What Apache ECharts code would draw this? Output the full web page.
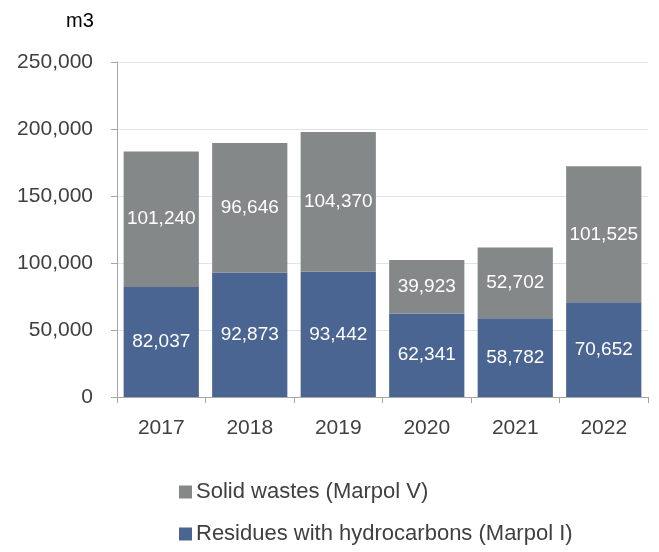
<!DOCTYPE html>
<html>
<head>
<meta charset="utf-8">
<script src="https://cdn.jsdelivr.net/npm/echarts@6/dist/echarts.min.js"></script>
<style>
  html, body { margin: 0; padding: 0; background: #fff; }
  #chart { width: 659px; height: 552px; }
</style>
</head>
<body>
<div id="chart"></div>
<script>
// data
var years = ['2017', '2018', '2019', '2020', '2021', '2022'];
var residues = [82037, 92873, 93442, 62341, 58782, 70652];
var solids = [101240, 96646, 104370, 39923, 52702, 101525];
var yTicks = [0, 50000, 100000, 150000, 200000, 250000];

var FONT = 'Liberation Sans';
var chart = echarts.init(document.getElementById('chart'));

function fmt(v) {
  return v.toLocaleString('en-US');
}

var option = {
  animation: false,
  textStyle: { fontFamily: FONT },
  title: {
    text: 'm3',
    left: 61,
    top: 6,
    textStyle: { fontFamily: FONT, fontSize: 20, fontWeight: 'normal', color: '#000' }
  },
  grid: { left: 117, right: 11, top: 62, bottom: 155 },
  legend: {
    orient: 'vertical',
    left: 179,
    top: 481,
    padding: 0,
    itemGap: 20,
    itemWidth: 13,
    itemHeight: 13,
    icon: 'rect',
    data: ['Solid wastes (Marpol V)', 'Residues with hydrocarbons (Marpol I)'],
    textStyle: { fontFamily: FONT, fontSize: 22, color: '#404040', padding: [0, 0, 0, -1] }
  },
  xAxis: {
    type: 'category',
    data: years,
    axisLine: { lineStyle: { color: '#a6a6a6' } },
    axisTick: { show: true, length: 6, lineStyle: { color: '#a6a6a6' } },
    axisLabel: { fontFamily: FONT, fontSize: 21, color: '#404040', margin: 21 }
  },
  yAxis: {
    type: 'value',
    min: yTicks[0],
    max: yTicks[yTicks.length - 1],
    interval: 50000,
    axisLine: { show: true, lineStyle: { color: '#a6a6a6' } },
    axisTick: { show: true, length: 6, lineStyle: { color: '#a6a6a6' } },
    splitLine: { lineStyle: { color: '#e3e3e3' } },
    axisLabel: {
      fontFamily: FONT, fontSize: 21, color: '#404040', margin: 24,
      formatter: function (v) { return fmt(v); }
    }
  },
  series: [
    {
      name: 'Residues with hydrocarbons (Marpol I)',
      type: 'bar',
      stack: 'total',
      barCategoryGap: '15%',
      data: residues,
      itemStyle: { color: '#4a6591' },
      label: {
        show: true, position: 'inside', color: '#fff',
        fontFamily: FONT, fontSize: 19,
        formatter: function (p) { return fmt(p.value); }
      }
    },
    {
      name: 'Solid wastes (Marpol V)',
      type: 'bar',
      stack: 'total',
      barCategoryGap: '15%',
      data: solids,
      itemStyle: { color: '#858889' },
      label: {
        show: true, position: 'inside', color: '#fff',
        fontFamily: FONT, fontSize: 19,
        formatter: function (p) { return fmt(p.value); }
      }
    }
  ]
};

chart.setOption(option);
</script>
</body>
</html>
